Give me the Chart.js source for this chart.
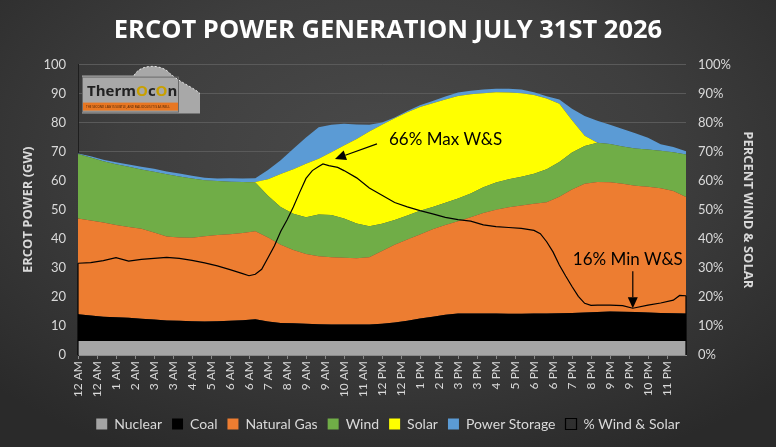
<!DOCTYPE html>
<html><head><meta charset="utf-8">
<script src="https://cdn.jsdelivr.net/npm/chart.js@4.4.0/dist/chart.umd.min.js"></script>
<style>
html,body{margin:0;padding:0;}
body{width:776px;height:447px;overflow:hidden;background:radial-gradient(ellipse 70% 75% at 50% 35%, #4a4a4a 0%, #3e3e3e 50%, #2a2a2a 100%);}
#wrap{position:relative;width:776px;height:447px;}
</style></head><body><div id="wrap"><canvas id="c" width="776" height="447"></canvas></div>
<script>
// ---- DATA (30-minute readings, hours after midnight) ----
const hours = [0,0.5,1,1.5,2,2.5,3,3.5,4,4.5,5,5.5,6,6.5,7,7.5,8,8.5,9,9.5,10,10.5,11,11.5,12,12.5,13,13.5,14,14.5,15,15.5,16,16.5,17,17.5,18,18.5,19,19.5,20,20.5,21,21.5,22,22.5,23,23.5,24];
const tickLabels = ["12 AM","12 AM","1 AM","2 AM","3 AM","3 AM","4 AM","5 AM","6 AM","6 AM","7 AM","8 AM","9 AM","9 AM","10 AM","11 AM","12 PM","12 PM","1 PM","2 PM","3 PM","3 PM","4 PM","5 PM","6 PM","6 PM","7 PM","8 PM","9 PM","9 PM","10 PM","11 PM"];
const nuclear = [4.8,4.8,4.8,4.8,4.8,4.8,4.8,4.8,4.8,4.8,4.8,4.8,4.8,4.8,4.8,4.8,4.8,4.8,4.8,4.8,4.8,4.8,4.8,4.8,4.8,4.8,4.8,4.8,4.8,4.8,4.8,4.8,4.8,4.8,4.8,4.8,4.8,4.8,4.8,4.8,4.8,4.8,4.8,4.8,4.8,4.8,4.8,4.8,4.8];
const coal = [9.2,8.8,8.4,8.2,8.0,7.7,7.4,7.1,7.0,6.8,6.7,6.8,7.0,7.2,7.5,6.7,6.2,6.1,6.0,5.8,5.7,5.7,5.7,5.7,6.0,6.4,7.0,7.8,8.4,9.1,9.5,9.5,9.5,9.5,9.4,9.4,9.5,9.5,9.6,9.7,9.8,10.0,10.2,10.1,10.0,9.8,9.7,9.6,9.5];
const naturalGas = [33.0,32.7,32.4,31.8,31.3,31.0,30.0,28.9,28.7,28.8,29.4,29.7,29.8,30.0,30.3,29.0,27.0,25.3,24.0,23.4,23.2,23.0,22.8,23.2,25.0,26.8,28.0,28.9,30.1,30.9,31.8,33.1,34.6,35.7,36.7,37.3,37.8,38.3,40.1,42.5,44.4,44.8,44.5,44.1,43.5,43.3,42.9,42.1,40.1];
const wind = [22.2,21.7,21.1,20.9,20.7,20.4,20.9,21.4,21.0,20.4,19.3,18.6,18.1,17.6,16.8,14.3,13.0,12.4,12.6,14.4,14.5,13.5,12.0,10.6,9.4,8.5,8.2,8.2,7.7,7.6,7.8,8.2,8.9,9.4,9.6,9.9,10.3,11.4,12.0,12.7,13.0,13.5,13.2,12.8,12.8,12.9,12.9,13.3,14.6];
const solar = [0,0,0,0,0,0,0,0,0,0,0,0,0,0,0.2,5.7,11.3,15.4,18.5,19.2,21.6,25.1,29.1,32.7,34.1,35.0,35.6,35.7,35.7,35.6,35.3,34.2,32.3,31.1,29.9,28.7,27.1,24.3,20.0,11.1,3.5,0,0,0,0,0,0,0,0];
const powerStorage = [0.2,0.4,0.5,0.7,0.8,0.9,1.0,1.0,1.0,0.9,0.8,0.9,1.2,1.2,1.3,3.2,4.8,7.0,9.0,10.8,9.5,7.5,5.0,2.3,0.8,0.3,0.4,0.6,0.8,1.0,1.2,1.2,1.3,1.2,1.3,1.3,1.0,0.8,1.5,4.0,6.8,7.6,6.6,6.0,5.3,4.0,2.3,1.8,1.2];
const pctHours = [0,0.5,1,1.5,2,2.5,3,3.5,4,4.5,5,5.5,6,6.5,6.75,7,7.25,7.5,7.75,8,8.25,8.5,8.75,9,9.25,9.5,9.67,9.9,10.25,10.5,11,11.5,12,12.5,13,13.5,14,14.5,15,15.5,16,16.5,17,17.5,18,18.25,18.5,18.75,19,19.25,19.5,19.75,20,20.25,20.5,21,21.5,21.9,22.5,23,23.5,23.75,24];
const pctWindSolar = [31.6,31.8,32.5,33.5,32.3,32.9,33.3,33.6,33.3,32.6,31.7,30.7,29.4,28.0,27.3,27.8,29.5,33.5,37.5,42.5,46.5,51.0,56.0,60.8,63.5,64.9,65.8,65.2,64.6,63.5,61.0,57.5,55.0,52.5,51.0,49.7,48.6,47.4,46.6,46.1,44.8,44.2,43.9,43.6,42.9,41.8,39.0,35.5,31.0,27.2,23.6,20.2,17.8,17.1,17.2,17.2,17.0,16.1,17.2,17.9,18.9,20.5,20.4];
const seriesNames = ["Nuclear","Coal","Natural Gas","Wind","Solar","Power Storage","% Wind & Solar"];
const seriesColors = ["#a5a5a5","#000000","#ed7d31","#70ad47","#ffff00","#5b9bd5","#000000"];
const annMax = "66% Max W&S";
const annMin = "16% Min W&S";

const stackSeries = [nuclear, coal, naturalGas, wind, solar, powerStorage];
const pts = (xs, ys) => xs.map((h, i) => ({x: h, y: ys[i]}));

const datasets = stackSeries.map((arr, k) => ({
  label: seriesNames[k],
  data: pts(hours, arr),
  yAxisID: 'y',
  backgroundColor: seriesColors[k],
  borderColor: seriesColors[k],
  borderWidth: 0,
  pointRadius: 0,
  fill: k === 0 ? 'origin' : '-1',
  tension: 0,
  order: 1
}));
datasets.push({
  label: seriesNames[6],
  data: pts(pctHours, pctWindSolar),
  yAxisID: 'y2',
  backgroundColor: 'rgba(0,0,0,0)',
  borderColor: seriesColors[6],
  borderWidth: 1.2,
  pointRadius: 0,
  fill: false,
  tension: 0,
  order: 0
});

function arrow(ctx, x1, y1, x2, y2) {
  const a = Math.atan2(y2 - y1, x2 - x1), L = 11, W = 5;
  ctx.beginPath(); ctx.moveTo(x1, y1);
  ctx.lineTo(x2 - L * Math.cos(a), y2 - L * Math.sin(a)); ctx.stroke();
  ctx.beginPath(); ctx.moveTo(x2, y2);
  ctx.lineTo(x2 - L * Math.cos(a) + W * Math.sin(a), y2 - L * Math.sin(a) - W * Math.cos(a));
  ctx.lineTo(x2 - L * Math.cos(a) - W * Math.sin(a), y2 - L * Math.sin(a) + W * Math.cos(a));
  ctx.closePath(); ctx.fill();
}

const decor = {
  id: 'decor',
  afterDatasetsDraw(chart) {
    const ctx = chart.ctx, xs = chart.scales.x, y2 = chart.scales.y2, ca = chart.chartArea;
    ctx.save();
    const meta = chart.getDatasetMeta(6).data;
    const p0 = meta[0], pN = meta[meta.length - 1];
    ctx.strokeStyle = '#000'; ctx.lineWidth = 1.2;
    ctx.beginPath();
    ctx.moveTo(p0.x, p0.y); ctx.lineTo(p0.x, y2.bottom);
    ctx.moveTo(pN.x, pN.y); ctx.lineTo(pN.x, y2.bottom);
    ctx.stroke();
    const iMax = pctWindSolar.indexOf(Math.max(...pctWindSolar));
    const iMin = pctWindSolar.indexOf(Math.min(...pctWindSolar));
    const mx = xs.getPixelForValue(pctHours[iMax]), my = y2.getPixelForValue(pctWindSolar[iMax]);
    const nx = xs.getPixelForValue(pctHours[iMin]), ny = y2.getPixelForValue(pctWindSolar[iMin]);
    ctx.fillStyle = '#000'; ctx.strokeStyle = '#000'; ctx.lineWidth = 1.2;
    ctx.font = '17px Lato';
    ctx.textBaseline = 'middle';
    ctx.textAlign = 'left';
    ctx.fillText(annMax, mx + 66, my - 24);
    arrow(ctx, mx + 54, my - 20, mx + 12, my - 5);
    ctx.textAlign = 'center';
    ctx.fillText(annMin, nx - 5, ny - 49);
    arrow(ctx, nx, ny - 37, nx, ny);
    // ThermOcOn logo
    const lx = ca.left + 4, ly = ca.top + 1;
    ctx.fillStyle = '#a8a8a8';
    ctx.beginPath();
    ctx.moveTo(lx, ly + 10); ctx.lineTo(lx + 52, ly + 10);
    ctx.bezierCurveTo(lx + 58, ly - 2, lx + 80, ly - 2, lx + 88, ly + 8);
    ctx.bezierCurveTo(lx + 100, ly + 18, lx + 112, ly + 22, lx + 118, ly + 28);
    ctx.lineTo(lx + 118, ly + 48); ctx.lineTo(lx, ly + 48); ctx.closePath(); ctx.fill();
    ctx.strokeStyle = '#ffffff'; ctx.lineWidth = 0.8; ctx.setLineDash([2, 2]);
    ctx.beginPath(); ctx.moveTo(lx + 52, ly + 10);
    ctx.bezierCurveTo(lx + 58, ly - 2, lx + 80, ly - 2, lx + 88, ly + 8);
    ctx.bezierCurveTo(lx + 100, ly + 18, lx + 112, ly + 22, lx + 118, ly + 28);
    ctx.stroke(); ctx.setLineDash([]);
    ctx.strokeStyle = '#6a6a6a'; ctx.lineWidth = 1;
    ctx.strokeRect(lx + 0.5, ly + 11.5, 96, 35);
    ctx.fillStyle = '#e87722';
    ctx.fillRect(lx + 1, ly + 37, 95, 8);
    ctx.font = 'bold 15px "Open Sans"'; ctx.textAlign = 'left';
    const parts = [['Therm', '#222'], ['O', '#c8a000'], ['c', '#222'], ['O', '#c8a000'], ['n', '#222']];
    let cx = lx + 5;
    parts.forEach(([t, c]) => { ctx.fillStyle = c; ctx.fillText(t, cx, ly + 26); cx += ctx.measureText(t).width; });
    ctx.font = '3px "Open Sans"'; ctx.fillStyle = '#3a1a00';
    ctx.fillText('THE SECOND LAW IS SUBTLE, AND MALICIOUS IT IS AS WELL', lx + 4, ly + 41.5);
    ctx.restore();
  }
};

new Chart(document.getElementById('c'), {
  type: 'line',
  data: { datasets },
  plugins: [decor],
  options: {
    responsive: false,
    animation: false,
    layout: { padding: { left: 0, right: 0, top: 0, bottom: 6 } },
    plugins: {
      title: {
        display: true, text: 'ERCOT POWER GENERATION JULY 31ST 2026',
        color: '#ffffff', font: { family: 'Open Sans', size: 25.5, weight: 'bold', lineHeight: 1.2 },
        padding: { top: 15, bottom: 19 }
      },
      legend: {
        position: 'bottom',
        labels: {
          color: '#d9d9d9', font: { family: 'Lato', size: 14 },
          boxWidth: 11, boxHeight: 11, padding: 10,
          sort: (a, b) => a.datasetIndex - b.datasetIndex
        }
      },
      tooltip: { enabled: false }
    },
    scales: {
      x: {
        type: 'linear', min: 0, max: 24,
        afterBuildTicks: s => { s.ticks = tickLabels.map((_, i) => ({ value: i * 0.75 })); },
        afterFit: s => { s.height = 52; },
        ticks: {
          autoSkip: false, maxRotation: 90, minRotation: 90, padding: 2,
          color: '#d9d9d9', font: { family: 'Lato', size: 12 },
          callback: (v, i) => tickLabels[i]
        },
        grid: { drawOnChartArea: false, color: '#8a8a8a', tickLength: 4 },
        border: { display: true, color: '#8a8a8a' }
      },
      y: {
        stacked: true, min: 0, max: 100, position: 'left',
        afterFit: s => { s.width = 78; },
        ticks: { stepSize: 10, color: '#d9d9d9', font: { family: 'Lato', size: 13 }, padding: 12 },
        grid: { color: '#5a5a5a', drawTicks: false },
        border: { display: true, color: '#1e1e1e' },
        title: { display: true, text: 'ERCOT POWER (GW)', color: '#d9d9d9',
          font: { family: 'Open Sans', size: 13, weight: 'bold' }, padding: { top: 20, bottom: 0 } }
      },
      y2: {
        stacked: false, min: 0, max: 100, position: 'right',
        afterFit: s => { s.width = 90; },
        ticks: { stepSize: 10, color: '#d9d9d9', font: { family: 'Lato', size: 13 }, padding: 12,
          callback: v => v + '%' },
        grid: { drawOnChartArea: false, drawTicks: false },
        border: { display: false },
        title: { display: true, text: 'PERCENT WIND & SOLAR', color: '#d9d9d9',
          font: { family: 'Open Sans', size: 13, weight: 'bold' }, padding: { top: 20, bottom: 0 } }
      }
    }
  }
});
</script></body></html>
